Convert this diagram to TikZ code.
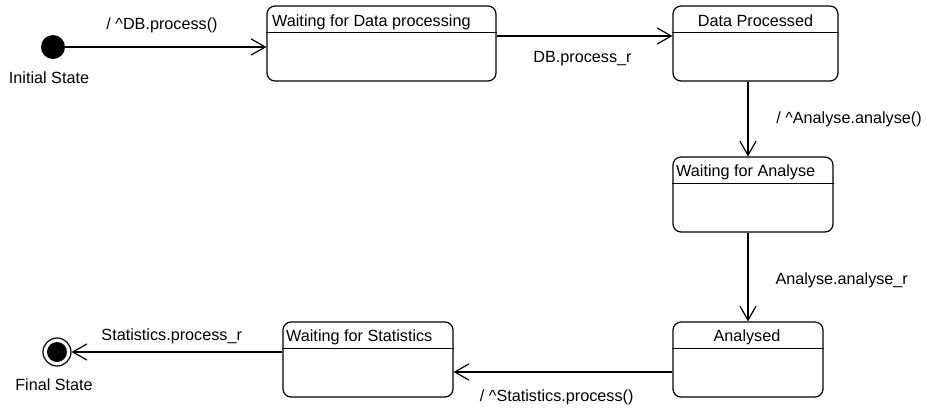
\documentclass[tikz,border=0pt]{standalone}
\usepackage{fontspec}
\setmainfont{Liberation Sans}
\usetikzlibrary{arrows.meta}
\begin{document}
\begin{tikzpicture}[x=1pt,y=-1pt,
  every node/.style={font=\fontsize{16.2}{18}\selectfont, inner sep=0pt},
  statebox/.style={draw, line width=1.2pt, rounded corners=8pt, minimum width=#1, minimum height=75pt},
  divider/.style={line width=1.1pt},
  trans/.style={line width=1.2pt, -{Straight Barb[length=14pt,width=16pt,line width=1.2pt]}},
  lbl/.style={anchor=base}
]
\useasboundingbox (0,0) rectangle (927,410);

% initial and final pseudo-states
\node[circle, fill=black, minimum size=24pt] (init) at (53,47) {};
\node[lbl] (initlbl) at (49,83.3) {Initial State};
\node[circle, draw, line width=1.2pt, minimum size=28pt] (final) at (57,352) {};
\node[circle, fill=black, minimum size=20pt] (finaldot) at (57,352) {};
\node[lbl] (finallbl) at (54,390.7) {Final State};

% states
\node[statebox=229pt] (s1) at (381.5,43.5) {};
\node[statebox=165pt] (s2) at (755.5,43.5) {};
\node[statebox=160pt] (s3) at (753,194.5) {};
\node[statebox=150pt] (s4) at (748,359.5) {};
\node[statebox=170pt] (s5) at (368,359.5) {};

% name compartments
\foreach \s in {s1,s2,s3,s4,s5}
  \draw[divider] ([yshift=-27.5pt]\s.north west) -- ([yshift=-27.5pt]\s.north east);

\node[anchor=base west] (t1) at (272,26.5) {Waiting for Data processing};
\node[lbl] (t2) at (755.5,26) {Data Processed};
\node[anchor=base west] (t3) at (676,176) {Waiting for Analyse};
\node[lbl] (t4) at (747,341.7) {Analysed};
\node[anchor=base west] (t5) at (286,341.7) {Waiting for Statistics};

% transitions
\coordinate (a12) at (s1.east |- 0,36);
\coordinate (a23) at (748,0 |- s2.south);
\coordinate (a34) at (748,0 |- s3.south);
\coordinate (a45) at (s4.west |- 0,372);
\coordinate (a5f) at (s5.west |- 0,352);

\draw[trans] (init) -- (init -| s1.west);
\draw[trans] (a12) -- (a12 -| s2.west);
\draw[trans] (a23) -- (a23 |- s3.north);
\draw[trans] (a34) -- (a34 |- s4.north);
\draw[trans] (a45) -- (a45 -| s5.east);
\draw[trans] (a5f) -- (final.east);

% transition labels
\node[lbl] (l1) at (162,29.3) {/ \textasciicircum DB.process()};
\node[lbl] (l2) at (582.5,62) {DB.process\_r};
\node[lbl] (l3) at (849,123.3) {/ \textasciicircum Analyse.analyse()};
\node[lbl] (l4) at (841.7,284) {Analyse.analyse\_r};
\node[lbl] (l5) at (556.7,401.7) {/ \textasciicircum Statistics.process()};
\node[lbl] (l6) at (171.7,340) {Statistics.process\_r};
\end{tikzpicture}
\end{document}
